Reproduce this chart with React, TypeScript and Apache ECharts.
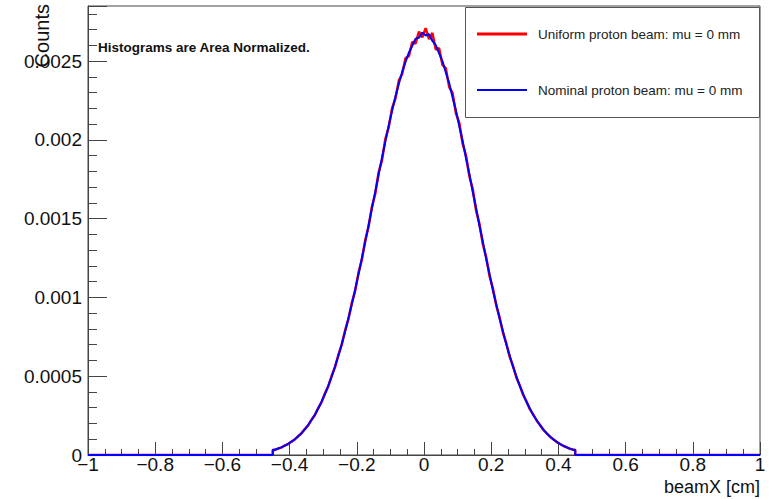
import React, { useEffect, useRef } from "react";
import * as echarts from "echarts";

// Histogram binning: 90 bins of width 0.01 from -0.45 to 0.45
const BIN_START = -0.45;
const BIN_WIDTH = 0.01;
const X_MIN = -1;
const X_MAX = 1;

const uniformBeam: number[] = [
  0.000031, 0.000041, 0.000047, 0.00006, 0.000068, 0.000085, 0.000097, 0.000119, 0.000136, 0.000165,
  0.000187, 0.000224, 0.000252, 0.000298, 0.000334, 0.000391, 0.000435, 0.000501, 0.000556, 0.000634,
  0.000699, 0.000789, 0.000862, 0.000964, 0.001041, 0.001156, 0.001239, 0.001363, 0.001449, 0.001576,
  0.001658, 0.001795, 0.001872, 0.002006, 0.002081, 0.002201, 0.002264, 0.002376, 0.002418, 0.002519,
  0.002531, 0.002622, 0.002612, 0.002688, 0.002651,
  0.00271, 0.002639, 0.002679, 0.002574, 0.002582, 0.002476, 0.002454, 0.002335, 0.002298, 0.002169,
  0.002108, 0.001976, 0.001901, 0.001769, 0.001688, 0.001552, 0.001468, 0.001339, 0.001257, 0.001136,
  0.001058, 0.000949, 0.000874, 0.000776, 0.000709, 0.000623, 0.000565, 0.000491, 0.000443, 0.000381,
  0.000341, 0.000291, 0.000258, 0.000219, 0.000192, 0.00016, 0.000139, 0.000116, 0.0000995, 0.000082,
  0.00007, 0.000057, 0.000049, 0.000039, 0.000033,
];

const nominalBeam: number[] = [
  0.000033, 0.0000395, 0.0000485, 0.000058, 0.00007, 0.000083, 0.0000995, 0.0001165, 0.0001385, 0.0001615,
  0.0001905, 0.0002205, 0.0002555, 0.0002935, 0.0003385, 0.0003855, 0.0004395, 0.0004965, 0.0005615, 0.0006285,
  0.0007035, 0.0007825, 0.0008675, 0.0009555, 0.0010495, 0.0011465, 0.0012485, 0.0013515, 0.0014585, 0.0015645,
  0.0016735, 0.0017805, 0.0018875, 0.0019895, 0.0020905, 0.0021845, 0.0022745, 0.0023555, 0.0024315, 0.0024955,
  0.0025535, 0.002598, 0.002642, 0.002648, 0.002681,
  0.002662, 0.002671, 0.002628, 0.002601, 0.002549, 0.002499, 0.002428, 0.002359, 0.002271, 0.002188,
  0.002087, 0.001993, 0.001884, 0.001784, 0.00167, 0.001568, 0.001455, 0.001355, 0.001245, 0.001149,
  0.001046, 0.000958, 0.000865, 0.000785, 0.000701, 0.000631, 0.000559, 0.000499, 0.000437, 0.000388,
  0.000336, 0.000295, 0.000254, 0.000222, 0.000189, 0.000163, 0.000137, 0.000118, 0.0000985, 0.000084,
  0.000069, 0.0000585, 0.0000478, 0.0000402, 0.0000325,
];

const seriesNames = [
  "Uniform proton beam: mu = 0 mm",
  "Nominal proton beam: mu = 0 mm",
];
const seriesColors = ["#ff0000", "#0000ff"];

const xTitle = "beamX [cm]";
const yTitle = "Counts";
const note = "Histograms are Area Normalized.";

const Y_MAX = 0.00285;
const Y_INTERVAL = 0.0005;

const r3 = (v: number) => Math.round(v * 10000) / 10000;

// Histogram drawn as a polyline through bin centres, with the outer edges and empty range on zero
function histToLine(values: number[]): [number, number][] {
  const first = BIN_START;
  const last = BIN_START + values.length * BIN_WIDTH;
  const pts: [number, number][] = [[X_MIN, 0], [r3(first), 0], [r3(first), values[0]]];
  values.forEach((v, i) => {
    pts.push([r3(BIN_START + (i + 0.5) * BIN_WIDTH), v]);
  });
  pts.push([r3(last), values[values.length - 1]]);
  pts.push([r3(last), 0]);
  pts.push([X_MAX, 0]);
  return pts;
}

const FONT = "'Liberation Sans', Arial, Helvetica, sans-serif";

export default function App() {
  const ref = useRef<HTMLDivElement>(null);
  useEffect(() => {
    if (!ref.current) return;
    const chart = echarts.init(ref.current, undefined, { renderer: "svg" });
    const axisColor = "#444";
    chart.setOption({
      animation: false,
      backgroundColor: "#ffffff",
      textStyle: { fontFamily: FONT },
      grid: {
        left: 88,
        right: 9,
        top: 6,
        bottom: 44,
        show: true,
        borderColor: axisColor,
        borderWidth: 1,
        backgroundColor: "transparent",
      },
      xAxis: {
        type: "value",
        min: X_MIN,
        max: X_MAX,
        interval: 0.2,
        axisLine: { show: true, onZero: false, lineStyle: { color: axisColor, width: 1 } },
        axisTick: { show: true, inside: true, length: 13, lineStyle: { color: axisColor } },
        minorTick: { show: true, splitNumber: 4, length: 6, lineStyle: { color: axisColor } },
        splitLine: { show: false },
        axisLabel: {
          fontSize: 19,
          color: "#111",
          margin: 0,
          fontFamily: FONT,
          formatter: (v: number) => String(Math.round(v * 10) / 10).replace("-", "\u2212"),
        },
      },
      yAxis: {
        type: "value",
        min: 0,
        max: Y_MAX,
        interval: Y_INTERVAL,
        axisLine: { show: true, onZero: false, lineStyle: { color: axisColor, width: 1 } },
        axisTick: { show: true, inside: true, length: 19, lineStyle: { color: axisColor } },
        minorTick: { show: true, splitNumber: 5, length: 9, lineStyle: { color: axisColor } },
        splitLine: { show: false },
        axisLabel: {
          fontSize: 19,
          color: "#111",
          margin: 6,
          showMaxLabel: false,
          fontFamily: FONT,
          formatter: (v: number) => {
            const k = Math.round(v / Y_INTERVAL);
            if (Math.abs(k * Y_INTERVAL - v) > 1e-9) return "";
            return v === 0 ? "0" : String(Number(v.toFixed(4)));
          },
        },
      },
      series: [
        {
          name: seriesNames[0],
          type: "line",
          data: histToLine(uniformBeam),
          showSymbol: false,
          symbol: "none",
          lineStyle: { color: seriesColors[0], width: 2.5 },
          z: 2,
        },
        {
          name: seriesNames[1],
          type: "line",
          data: histToLine(nominalBeam),
          showSymbol: false,
          symbol: "none",
          lineStyle: { color: seriesColors[1], width: 2 },
          z: 3,
        },
      ],
      graphic: [
        {
          type: "text",
          x: 42,
          y: 4,
          rotation: Math.PI / 2,
          z: 10,
          style: {
            text: yTitle,
            fontSize: 20,
            fontFamily: FONT,
            fill: "#111",
            textAlign: "right",
            textVerticalAlign: "middle",
          },
        },
        {
          type: "text",
          x: 760,
          y: 487,
          z: 10,
          style: {
            text: xTitle,
            fontSize: 18,
            fontFamily: FONT,
            fill: "#111",
            textAlign: "right",
            textVerticalAlign: "middle",
          },
        },
        {
          type: "text",
          x: 98,
          y: 47,
          z: 10,
          style: {
            text: note,
            fontSize: 13.5,
            fontWeight: "bold",
            fontFamily: FONT,
            fill: "#111",
            textAlign: "left",
            textVerticalAlign: "middle",
          },
        },
        {
          type: "rect",
          z: 10,
          shape: { x: 465.5, y: 7.5, width: 294, height: 110 },
          style: { fill: "#ffffff", stroke: "#555", lineWidth: 1 },
        },
        {
          type: "line",
          z: 11,
          shape: { x1: 477, y1: 34, x2: 527, y2: 34 },
          style: { stroke: seriesColors[0], lineWidth: 3 },
        },
        {
          type: "line",
          z: 11,
          shape: { x1: 477, y1: 90, x2: 527, y2: 90 },
          style: { stroke: seriesColors[1], lineWidth: 2 },
        },
        {
          type: "text",
          x: 538,
          y: 34,
          z: 11,
          style: {
            text: seriesNames[0],
            fontSize: 13.5,
            fontFamily: FONT,
            fill: "#222",
            textAlign: "left",
            textVerticalAlign: "middle",
          },
        },
        {
          type: "text",
          x: 538,
          y: 90,
          z: 11,
          style: {
            text: seriesNames[1],
            fontSize: 13.5,
            fontFamily: FONT,
            fill: "#222",
            textAlign: "left",
            textVerticalAlign: "middle",
          },
        },
      ],
    });
    return () => chart.dispose();
  }, []);
  return (
    <div
      ref={ref}
      style={{ position: "fixed", left: 0, top: 0, width: 769, height: 499, background: "#fff" }}
    />
  );
}
